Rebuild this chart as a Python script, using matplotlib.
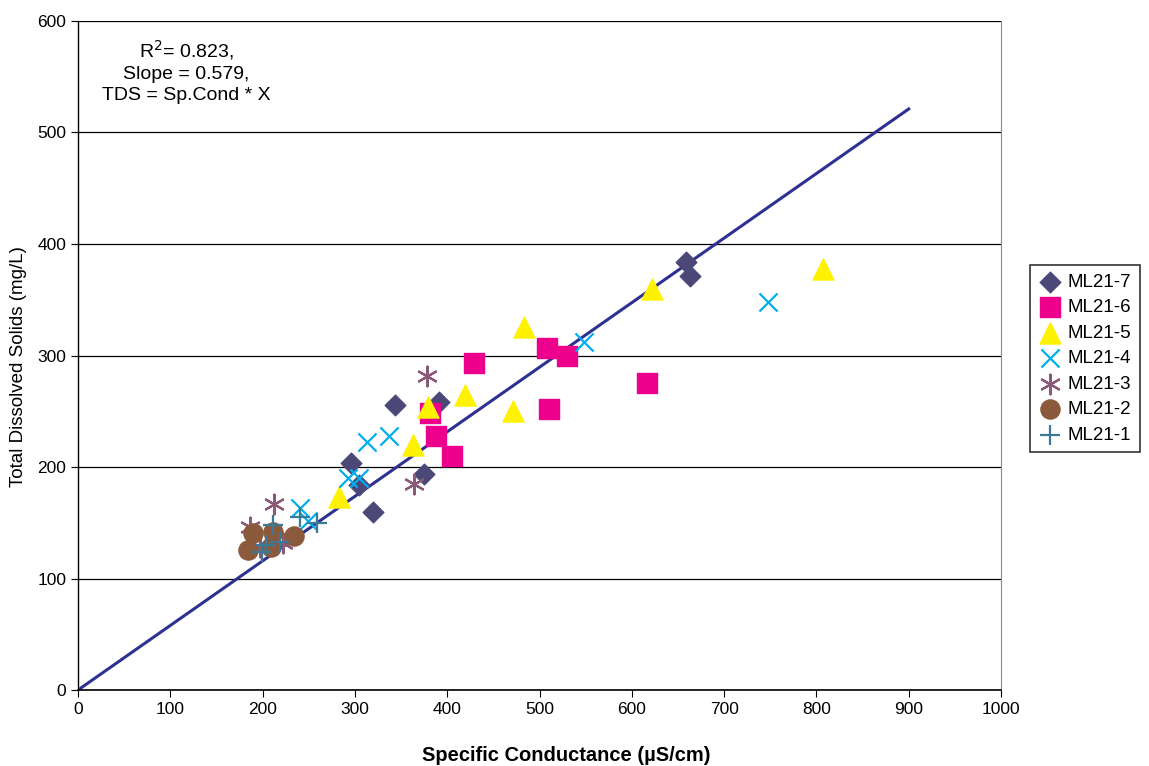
import numpy as np
import matplotlib.pyplot as plt

plt.rcParams['font.family'] = ['Liberation Sans', 'DejaVu Sans']

# values (Sp. Cond uS/cm, TDS mg/L)
ml21_7_x = [659, 663, 391, 343, 296, 304, 375, 320]
ml21_7_y = [384, 371, 258, 256, 204, 184, 194, 160]
ml21_6_x = [429, 508, 530, 616, 510, 381, 388, 405]
ml21_6_y = [293, 307, 300, 275, 252, 248, 228, 210]
ml21_5_x = [483, 622, 419, 471, 379, 363, 283, 807]
ml21_5_y = [326, 360, 265, 250, 254, 220, 173, 378]
ml21_4_x = [748, 548, 337, 313, 293, 304, 240, 249]
ml21_4_y = [348, 312, 228, 222, 190, 190, 163, 152]
ml21_3_x = [378, 364, 212, 186, 222, 197]
ml21_3_y = [282, 185, 167, 146, 132, 128]
ml21_2_x = [190, 211, 234, 184, 209]
ml21_2_y = [141, 142, 138, 126, 128]
ml21_1_x = [211, 204, 199, 219, 240, 259]
ml21_1_y = [148, 130, 124, 133, 155, 150]

slope = 0.579
r2 = 0.823
line_x = [0, 900]

fig = plt.figure(figsize=(11.49, 7.66), dpi=100)
ax = fig.add_axes([0.0679, 0.0992, 0.8033, 0.8734])

ax.plot(line_x, [slope * v for v in line_x], color='#2E3192', lw=2.2, zorder=1)

ax.scatter(ml21_7_x, ml21_7_y, marker='D', s=110, color='#4B4878', label='ML21-7', zorder=3)
ax.scatter(ml21_6_x, ml21_6_y, marker='s', s=190, color='#EC008C', label='ML21-6', zorder=3)
ax.scatter(ml21_5_x, ml21_5_y, marker='^', s=230, color='#FFF200', label='ML21-5', zorder=3)
ax.scatter(ml21_4_x, ml21_4_y, marker='x', s=170, color='#00AEEF', linewidths=1.6, label='ML21-4', zorder=3)
ax.scatter(ml21_3_x, ml21_3_y, marker=(6, 2, 0), s=200, color='#8B5A78', linewidths=1.6, label='ML21-3', zorder=3)
ax.scatter(ml21_2_x, ml21_2_y, marker='o', s=190, color='#8B5A3C', label='ML21-2', zorder=3)
ax.scatter(ml21_1_x, ml21_1_y, marker='+', s=190, color='#3A7A96', linewidths=1.6, label='ML21-1', zorder=4)

ax.set_xlim(0, 1000)
ax.set_ylim(0, 600)
ax.set_xticks(np.arange(0, 1001, 100))
ax.set_yticks(np.arange(0, 601, 100))
ax.yaxis.grid(True, color='black', lw=0.9)
ax.set_axisbelow(True)
ax.tick_params(labelsize=12.5, length=5, direction='out')
ax.spines['right'].set_color('#888888')
ax.spines['top'].set_visible(False)
ax.spines['left'].set_linewidth(1.0)
ax.spines['bottom'].set_linewidth(1.2)

ax.set_xlabel('Specific Conductance (µS/cm)', fontsize=14.5, fontweight='bold')
ax.xaxis.set_label_coords(0.529, -0.083)
ax.set_ylabel('Total Dissolved Solids (mg/L)', fontsize=13.5)
ax.yaxis.set_label_coords(-0.055, 0.483)

ax.text(117, 585, f'R$^2$= {r2},\nSlope = {slope},\nTDS = Sp.Cond * X',
        ha='center', va='top', fontsize=14, linespacing=1.32)

leg = fig.legend(loc='upper left', bbox_to_anchor=(0.896, 0.654), fontsize=13.5,
                 frameon=True, fancybox=False, edgecolor='black', borderpad=0.45,
                 labelspacing=0.45, handletextpad=0.3, handlelength=1.3,
                 borderaxespad=0, scatterpoints=1)
leg.get_frame().set_linewidth(1.2)

fig.savefig('out.png', dpi=100)
